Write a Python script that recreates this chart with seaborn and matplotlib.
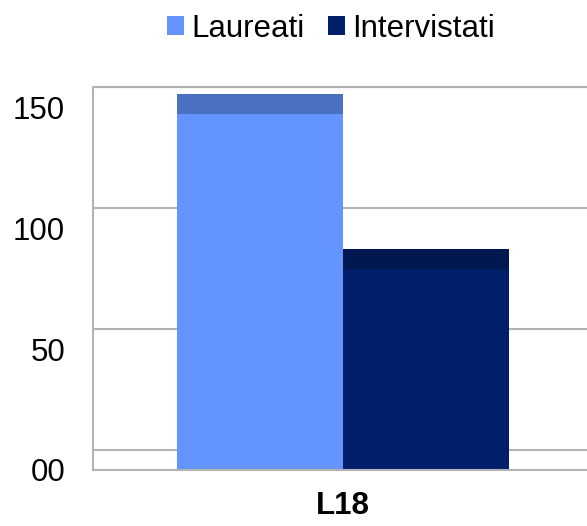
import pandas as pd
import seaborn as sns
import matplotlib.pyplot as plt
from matplotlib.patches import Patch, Rectangle

# data
corsi = ["L18"]
serie = ["Laureati", "Intervistati"]
valori = [147, 83]
tick_valori = [0, 50, 100, 150]
tick_etichette = ["00", "50", "100", "150"]

colori = ["#6495FF", "#001F6A"]
colori_top = ["#4A70C0", "#001850"]
depth = 8.3  # fake 3d depth of the original chart

df = pd.DataFrame({"corso": corsi * len(serie), "serie": serie, "valore": valori})

sns.set_style("white")
plt.rcParams["font.family"] = ["Liberation Sans", "DejaVu Sans"]
plt.rcParams["text.color"] = "black"
plt.rcParams["xtick.color"] = "black"
plt.rcParams["ytick.color"] = "black"

fig = plt.figure(figsize=(5.87, 5.26), dpi=100)
ax = fig.add_axes([0.1584, 0.1065, 0.852, 0.728])

sns.barplot(data=df, x="corso", y="valore", hue="serie", palette=colori,
            width=0.664, saturation=1, legend=False, ax=ax, zorder=2,
            linewidth=0, edgecolor="none")

# darker top band on each bar
for p, c in zip(ax.patches, colori_top):
    ax.add_patch(Rectangle((p.get_x(), p.get_height()), p.get_width(), depth,
                           facecolor=c, edgecolor="none", zorder=2))

# gridlines sit on the back wall, shifted up by the depth
for v in tick_valori:
    ax.axhline(v + depth, color="#B3B3B3", lw=1.5, zorder=0)

ax.set_xlim(-0.5, 0.5)
ax.set_ylim(0, 150 + depth)
ax.set_yticks(tick_valori)
ax.set_yticklabels(tick_etichette, fontsize=22.5, color="black")
ax.tick_params(axis="y", length=0, pad=20)
ax.tick_params(axis="x", length=0, pad=15)
for lab in ax.get_xticklabels():
    lab.set_fontsize(22.5)
    lab.set_fontweight("bold")
    lab.set_color("black")
ax.set_xlabel("")
ax.set_ylabel("")

for s in ["left", "bottom", "top"]:
    ax.spines[s].set_color("#B3B3B3")
    ax.spines[s].set_linewidth(1.5)
ax.spines["right"].set_visible(False)

handles = [Patch(facecolor=c, edgecolor="none") for c in colori]
fig.legend(handles, serie, loc="center", bbox_to_anchor=(0.564, 0.945), ncol=2,
           frameon=False, fontsize=22.5, handlelength=0.55, handleheight=0.55,
           handletextpad=0.24, columnspacing=0.72, borderaxespad=0)

fig.savefig("out.png", dpi=100)
